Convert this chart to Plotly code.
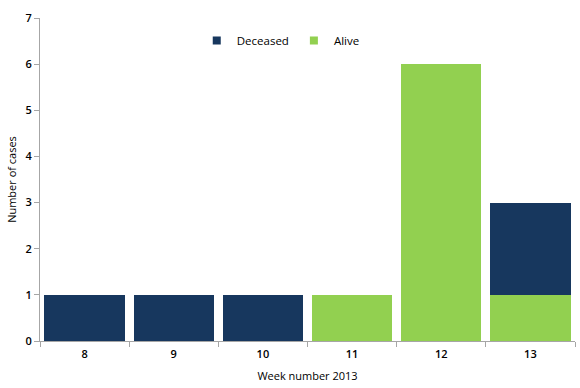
import plotly.graph_objects as go

weeks = ["8", "9", "10", "11", "12", "13"]
deceased = [1, 1, 1, 0, 0, 2]
alive = [0, 0, 0, 1, 6, 1]

navy = "#17375E"
green = "#92D050"

fig = go.Figure()
fig.add_trace(go.Bar(x=weeks, y=alive, name="Alive", showlegend=False,
                     marker=dict(color=green, line=dict(width=0))))
fig.add_trace(go.Bar(x=weeks, y=deceased, name="Deceased", showlegend=False,
                     marker=dict(color=navy, line=dict(width=0))))
# legend entries with small square symbols
fig.add_trace(go.Scatter(x=[None], y=[None], mode="markers", name="Deceased",
                         marker=dict(symbol="square", size=8, color=navy)))
fig.add_trace(go.Scatter(x=[None], y=[None], mode="markers", name="Alive",
                         marker=dict(symbol="square", size=8, color=green)))

fig.update_layout(
    barmode="stack",
    bargap=0.1,
    width=580, height=388,
    margin=dict(l=40, r=5, t=18, b=47),
    plot_bgcolor="white", paper_bgcolor="white",
    font=dict(family="Open Sans", size=11, color="black"),
    showlegend=True,
    legend=dict(orientation="h", x=0.45, xanchor="center", y=0.93, yanchor="middle",
                traceorder="normal",
                font=dict(size=11.5), itemwidth=30, tracegroupgap=0,
                bgcolor="rgba(0,0,0,0)"),
    xaxis=dict(
        title=dict(text="Week number 2013", font=dict(size=11), standoff=12),
        showline=True, linecolor="#A6A6A6", linewidth=1,
        ticks="outside", tickson="boundaries", ticklen=5, tickcolor="#A6A6A6",
        ticklabelstandoff=3,
        tickfont=dict(size=11, weight=600), showgrid=False, automargin=False,
    ),
    yaxis=dict(
        title=dict(text="Number of cases", font=dict(size=11), standoff=6),
        range=[0, 7], dtick=1,
        showline=True, linecolor="#A6A6A6", linewidth=1,
        ticks="outside", ticklen=5, tickcolor="#A6A6A6",
        tickfont=dict(size=11, weight=600), showgrid=False, zeroline=False, automargin=False,
    ),
)

fig.write_html("out.html", config={"displayModeBar": False},
               post_script="document.body.style.margin='0';document.body.style.overflow='hidden';")
